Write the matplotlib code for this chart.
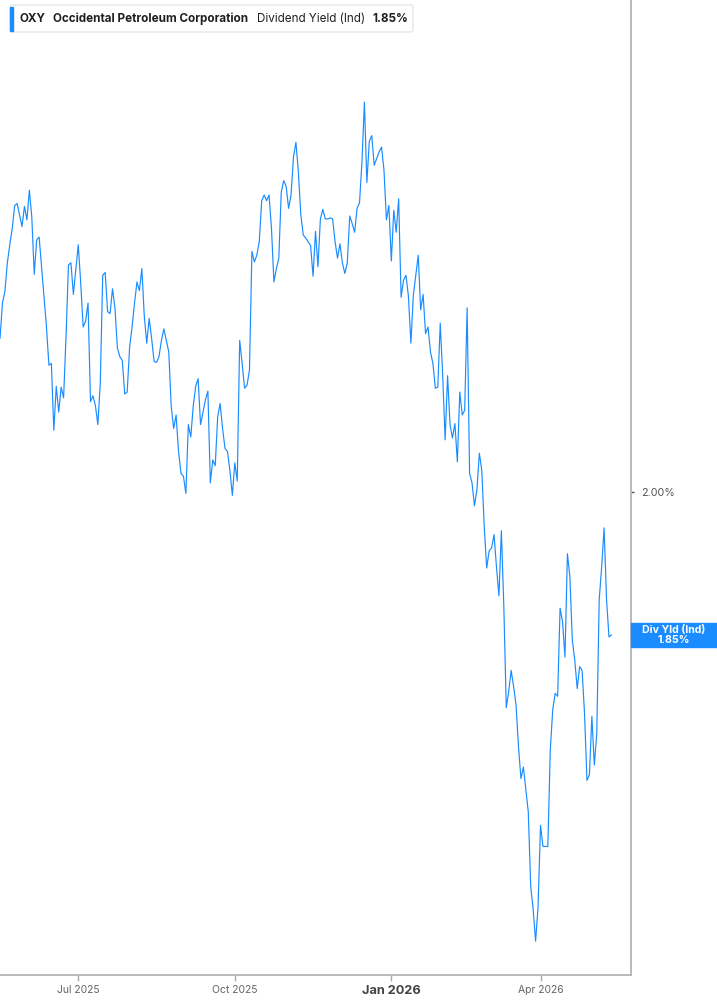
import numpy as np
import matplotlib
matplotlib.use("Agg")
import matplotlib.pyplot as plt
import matplotlib.transforms as mtransforms
from matplotlib.patches import Rectangle, FancyBboxPatch

plt.rcParams['font.family'] = ['Inter', 'DejaVu Sans']

# OXY indicated dividend yield (%), one value per trading session
yld = [2.160, 2.197, 2.209, 2.239, 2.258, 2.275, 2.299, 2.301, 2.289, 2.277,
       2.298, 2.284, 2.315, 2.287, 2.227, 2.263, 2.266, 2.235, 2.204, 2.172,
       2.132, 2.134, 2.064, 2.110, 2.083, 2.109, 2.098, 2.162, 2.237, 2.239,
       2.206, 2.232, 2.258, 2.218, 2.172, 2.178, 2.197, 2.094, 2.100, 2.090,
       2.070, 2.113, 2.226, 2.229, 2.188, 2.186, 2.212, 2.192, 2.150, 2.141,
       2.137, 2.102, 2.104, 2.151, 2.172, 2.197, 2.219, 2.210, 2.233, 2.183,
       2.155, 2.181, 2.160, 2.136, 2.135, 2.141, 2.158, 2.170, 2.158, 2.146,
       2.089, 2.066, 2.080, 2.042, 2.019, 2.016, 1.998, 2.070, 2.057, 2.089,
       2.110, 2.118, 2.070, 2.083, 2.096, 2.105, 2.009, 2.033, 2.027, 2.078,
       2.092, 2.066, 2.045, 2.042, 2.022, 1.996, 2.030, 2.011, 2.158, 2.134,
       2.108, 2.111, 2.127, 2.251, 2.240, 2.247, 2.261, 2.304, 2.310, 2.304,
       2.310, 2.275, 2.219, 2.233, 2.244, 2.313, 2.325, 2.319, 2.296, 2.310,
       2.350, 2.365, 2.334, 2.289, 2.268, 2.265, 2.261, 2.257, 2.225, 2.272,
       2.235, 2.285, 2.295, 2.285, 2.285, 2.286, 2.285, 2.261, 2.244, 2.259,
       2.239, 2.228, 2.239, 2.288, 2.280, 2.271, 2.296, 2.302, 2.345, 2.407,
       2.323, 2.366, 2.372, 2.341, 2.348, 2.355, 2.360, 2.336, 2.284, 2.299,
       2.241, 2.294, 2.271, 2.306, 2.203, 2.221, 2.226, 2.204, 2.155, 2.205,
       2.226, 2.247, 2.190, 2.206, 2.165, 2.172, 2.146, 2.134, 2.108, 2.109,
       2.176, 2.122, 2.054, 2.121, 2.070, 2.056, 2.071, 2.031, 2.104, 2.080,
       2.085, 2.192, 2.019, 2.009, 1.985, 2.002, 2.040, 2.022, 1.963, 1.920,
       1.938, 1.941, 1.955, 1.921, 1.891, 1.959, 1.880, 1.774, 1.791, 1.813,
       1.796, 1.777, 1.733, 1.700, 1.712, 1.688, 1.665, 1.587, 1.563, 1.530,
       1.566, 1.651, 1.629, 1.629, 1.629, 1.730, 1.772, 1.789, 1.786, 1.878,
       1.864, 1.827, 1.935, 1.911, 1.845, 1.824, 1.794, 1.817, 1.813, 1.768,
       1.698, 1.704, 1.765, 1.714, 1.747, 1.887, 1.921, 1.962, 1.887, 1.848,
       1.850]
days = np.arange(len(yld))

tick_days = [32, 96, 160, 221]
tick_labels = ["Jul 2025", "Oct 2025", "Jan 2026", "Apr 2026"]
ytick_vals = [2.00]

ticker = "OXY"
company = "Occidental Petroleum Corporation"
metric = "Dividend Yield (Ind)"
short_metric = "Div Yld (Ind)"
last_txt = "%.2f%%" % yld[-1]

blue = "#1a8cff"
W, H = 717, 1005
fig = plt.figure(figsize=(W / 100, H / 100), dpi=100)
ax = fig.add_axes([0, 30 / H, 631 / W, 975 / H])

ax.plot(days, yld, color=blue, lw=0.85)
ax.set_xlim(0, 258)
ax.set_ylim(1.4946, 2.5138)

for s in ["left", "top"]:
    ax.spines[s].set_visible(False)
for s in ["right", "bottom"]:
    ax.spines[s].set_color("#b4b4b4")
    ax.spines[s].set_linewidth(1.3)

ax.yaxis.tick_right()
ax.set_yticks(ytick_vals)
ax.set_yticklabels(["%.2f%%" % v for v in ytick_vals])
ax.tick_params(axis="y", length=2.5, width=1, color="#555555", pad=5,
               labelsize=7.8, labelcolor="#555555")

ax.set_xticks(tick_days)
ax.set_xticklabels(tick_labels)
ax.tick_params(axis="x", length=4, width=1, color="#aaaaaa", pad=3,
               labelsize=7.5, labelcolor="#666666")
for lab in ax.get_xticklabels():
    if lab.get_text().startswith("Jan"):
        lab.set_fontweight("bold")
        lab.set_fontsize(9.2)
        lab.set_color("#444444")

# last value tag on the right axis
trans = mtransforms.blended_transform_factory(ax.transAxes, ax.transData)
tag_h = 24 / 956.7
ax.add_patch(Rectangle((1.0, yld[-1] - tag_h / 2), 86 / 631, tag_h,
                       transform=trans, color=blue, clip_on=False, zorder=5))
ax.text(1.0 + 43 / 631, yld[-1], short_metric + "\n" + last_txt, transform=trans,
        ha="center", va="center", color="white", fontsize=7.6,
        fontweight="bold", linespacing=1.0, zorder=6)

# header box
fig.patches.append(FancyBboxPatch((10 / W, 1 - 32 / H), 403 / W, 27 / H,
                                  boxstyle="round,pad=0,rounding_size=0.003",
                                  transform=fig.transFigure, fc="white",
                                  ec="#e2e2e2", lw=0.8, zorder=3))
fig.patches.append(Rectangle((10 / W, 1 - 31 / H), 3 / W, 24 / H,
                             transform=fig.transFigure, color=blue, zorder=4))
ty = 1 - 19 / H
hs = 8.4
fig.text(20 / W, ty, ticker, fontsize=hs, fontweight="bold", color="#1f1f1f", va="center")
fig.text(53 / W, ty, company, fontsize=hs, fontweight="bold", color="#1f1f1f", va="center")
fig.text(257 / W, ty, metric, fontsize=hs, color="#1f1f1f", va="center")
fig.text(372 / W, ty, last_txt, fontsize=hs, fontweight="bold", color="#1f1f1f", va="center")

fig.savefig("out.png", dpi=100)
